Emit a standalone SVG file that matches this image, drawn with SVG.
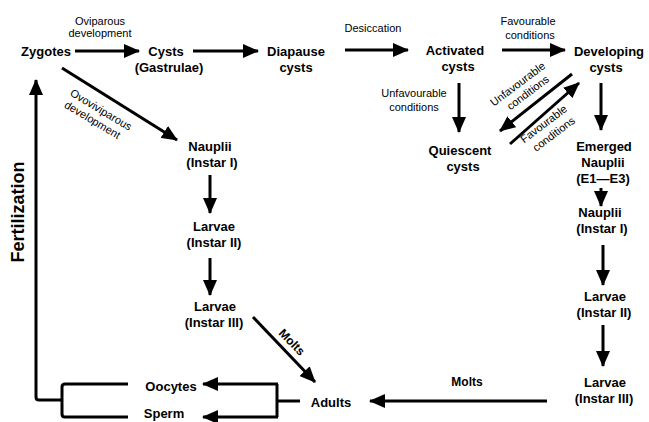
<svg xmlns="http://www.w3.org/2000/svg" width="649" height="422" viewBox="0 0 649 422">
<defs>
<marker id="ah" markerUnits="userSpaceOnUse" markerWidth="16" markerHeight="14" refX="15" refY="7" orient="auto">
<path d="M0,0 L16,7 L0,14 z" fill="#000"/>
</marker>
<style>
.n{font-family:"Liberation Sans",Arial,sans-serif;font-weight:bold;font-size:13px;text-anchor:middle;fill:#000}
.l{font-family:"Liberation Sans",Arial,sans-serif;font-size:11px;text-anchor:middle;fill:#000}
.m{font-family:"Liberation Sans",Arial,sans-serif;font-weight:bold;font-size:12px;text-anchor:middle;fill:#000}
.c line,.c path{stroke:#000;stroke-width:3;fill:none}
.a{marker-end:url(#ah)}
</style>
</defs>
<rect width="649" height="422" fill="#fff"/>
<g class="c" id="connectors">
<line class="a" x1="75" y1="51" x2="139" y2="51"/>
<line class="a" x1="193" y1="51" x2="258" y2="51"/>
<line class="a" x1="345" y1="50" x2="408" y2="50"/>
<line class="a" x1="502" y1="50" x2="565" y2="50"/>
<line class="a" x1="459" y1="83" x2="459" y2="132"/>
<line class="a" x1="601" y1="83" x2="601" y2="130"/>
<line class="a" x1="572" y1="74" x2="500" y2="131"/>
<line class="a" x1="510" y1="144" x2="579" y2="83"/>
<line class="a" x1="62" y1="68" x2="177" y2="140"/>
<line class="a" x1="210" y1="175" x2="210" y2="213"/>
<line class="a" x1="210" y1="258" x2="210" y2="295"/>
<line class="a" x1="253" y1="317" x2="315" y2="382"/>
<line class="a" x1="601" y1="188" x2="601" y2="206"/>
<line class="a" x1="603" y1="245" x2="603" y2="285"/>
<line class="a" x1="603" y1="325" x2="603" y2="366"/>
<line class="a" x1="547" y1="401" x2="370" y2="401"/>
<path d="M300,401 H277"/>
<path d="M277,384 V417"/>
<line class="a" x1="278" y1="384" x2="203" y2="384"/>
<line class="a" x1="278" y1="417" x2="203" y2="417"/>
<path d="M128,384 H65 Q62,384 62,387 V414 Q62,417 65,417 H128"/>
<path class="a" d="M62,400 H39 Q36,400 36,397 V80"/>
</g>
<g id="zygotes"><text class="n" x="46" y="56">Zygotes</text></g>
<g id="lbl-oviparous"><text class="l" x="100" y="25">Oviparous</text><text class="l" x="100" y="37">development</text></g>
<g id="cysts"><text class="n" x="166" y="56">Cysts</text><text class="n" x="169" y="72">(Gastrulae)</text></g>
<g id="diapause"><text class="n" x="296" y="56">Diapause</text><text class="n" x="296" y="72">cysts</text></g>
<g id="lbl-desiccation"><text class="l" x="373" y="32">Desiccation</text></g>
<g id="activated"><text class="n" x="455" y="55">Activated</text><text class="n" x="458" y="71">cysts</text></g>
<g id="lbl-fav1"><text class="l" x="528" y="25">Favourable</text><text class="l" x="530" y="39">conditions</text></g>
<g id="developing"><text class="n" x="609" y="56">Developing</text><text class="n" x="606" y="72">cysts</text></g>
<g id="lbl-unfav1"><text class="l" x="414" y="97">Unfavourable</text><text class="l" x="414" y="111">conditions</text></g>
<g id="quiescent"><text class="n" x="460" y="155">Quiescent</text><text class="n" x="463" y="171">cysts</text></g>
<g id="lbl-unfav2" transform="translate(520,87) rotate(-37)"><text class="l" x="0" y="0">Unfavourable</text><text class="l" x="3" y="13">conditions</text></g>
<g id="lbl-fav2" transform="translate(546,127) rotate(-37)"><text class="l" x="0" y="0">Favourable</text><text class="l" x="2" y="14">conditions</text></g>
<g id="emerged"><text class="n" x="604" y="151">Emerged</text><text class="n" x="603" y="167">Nauplii</text><text class="n" x="603" y="183">(E1—E3)</text></g>
<g id="lbl-ovovivi" transform="translate(99,113) rotate(31)"><text class="l" x="0" y="0">Ovoviviparous</text><text class="l" x="-2" y="13">development</text></g>
<g id="nauplii-l"><text class="n" x="210" y="151">Nauplii</text><text class="n" x="212" y="167">(Instar I)</text></g>
<g id="larvae2-l"><text class="n" x="214" y="231">Larvae</text><text class="n" x="214" y="247">(Instar II)</text></g>
<g id="larvae3-l"><text class="n" x="215" y="311">Larvae</text><text class="n" x="214" y="327">(Instar III)</text></g>
<g id="lbl-molts1" transform="translate(289,345) rotate(46)"><text class="m" x="0" y="0">Molts</text></g>
<g id="adults"><text class="n" x="331" y="407">Adults</text></g>
<g id="oocytes"><text class="n" x="171" y="391">Oocytes</text></g>
<g id="sperm"><text class="n" x="164" y="418">Sperm</text></g>
<g id="lbl-fert" transform="translate(24,212) rotate(-90)"><text class="n" style="font-size:18px" x="0" y="0">Fertilization</text></g>
<g id="nauplii-r"><text class="n" x="600" y="217">Nauplii</text><text class="n" x="602" y="233">(Instar I)</text></g>
<g id="larvae2-r"><text class="n" x="605" y="301">Larvae</text><text class="n" x="604" y="317">(Instar II)</text></g>
<g id="larvae3-r"><text class="n" x="605" y="387">Larvae</text><text class="n" x="604" y="403">(Instar III)</text></g>
<g id="lbl-molts2"><text class="m" x="467" y="386">Molts</text></g>
</svg>
